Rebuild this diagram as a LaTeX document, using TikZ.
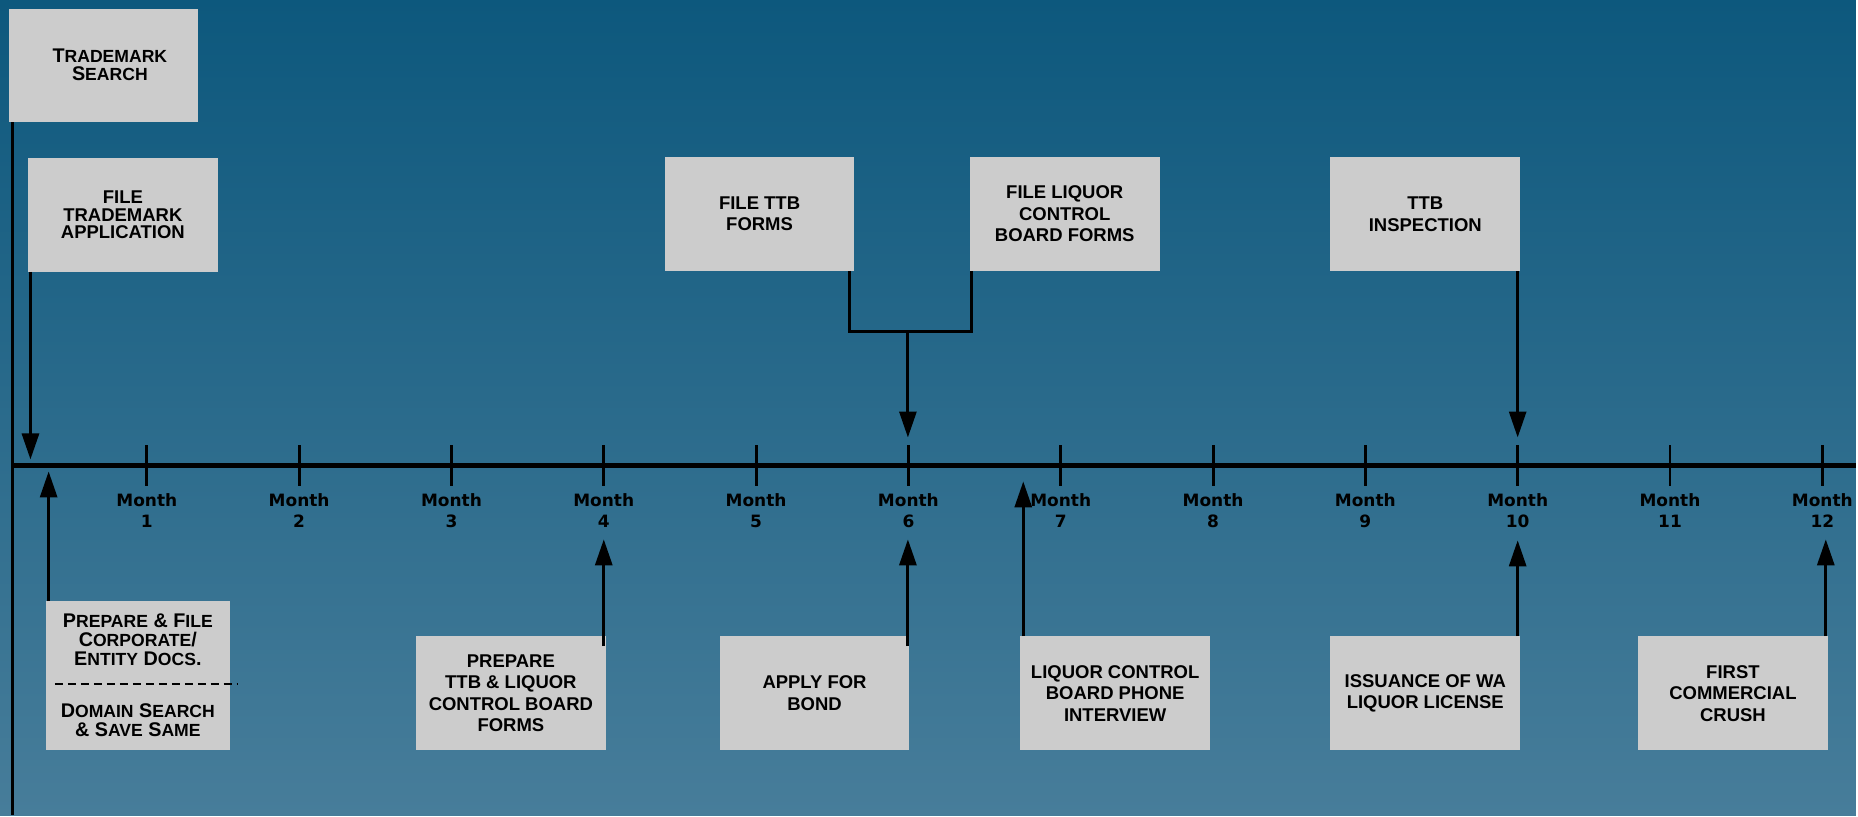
\documentclass[tikz,border=0pt]{standalone}
\usepackage{fontspec}
\usetikzlibrary{arrows.meta,calc}
\newfontfamily\boxfont{Liberation Sans}
\newfontfamily\monthfont{DejaVu Sans}
\definecolor{boxgray}{HTML}{CCCCCC}
\definecolor{bgtop}{HTML}{0D587D}
\definecolor{bgbot}{HTML}{477D9A}
\newcommand\smc[1]{{\fontsize{17.6}{18.7}\selectfont #1}}
\begin{document}
\begin{tikzpicture}[x=1pt,y=-1pt,
  box/.style={fill=boxgray, inner sep=0pt, minimum width=190pt, minimum height=114pt, align=center, font=\boxfont\bfseries\fontsize{18.5}{21.5}\selectfont},
  lbl/.style={inner sep=0pt, align=center, font=\boxfont\bfseries\fontsize{19.8}{18.7}\selectfont},
  mlbl/.style={inner sep=0pt, align=center, font=\monthfont\bfseries\fontsize{17}{21}\selectfont},
  arr/.style={line width=3pt, -{Triangle[length=26pt,width=17pt]}},
  conn/.style={line width=3pt},
  axisline/.style={line width=4.5pt},
  tickline/.style={line width=3pt},
  divider/.style={line width=2pt, dash pattern=on 8pt off 5pt}]

\shade[top color=bgtop, bottom color=bgbot] (0,0) rectangle (1858,816);

% top boxes
\node[box, minimum width=189pt, minimum height=113pt] (tms) at (103.5,65.5) {};
\node[lbl] (tmstxt) at (110,65) {T\smc{RADEMARK}\\S\smc{EARCH}};
\node[box, font=\boxfont\bfseries\fontsize{18.5}{18}\selectfont] (tma) at (123,215) {FILE\\TRADEMARK\\APPLICATION};
\node[box] (ttbf) at (760.5,214) {FILE TTB\\FORMS};
\node[box] (lcbf) at (1066,214) {FILE LIQUOR\\CONTROL\\BOARD FORMS};
\node[box] (ttbi) at (1427,214.5) {TTB\\INSPECTION};

% bottom boxes
\node[box, minimum width=184pt, minimum height=149pt] (pfc) at (138,676.5) {};
\node[lbl] (pfctxt1) at (138,640.4) {P\smc{REPARE} \& F\smc{ILE}\\C\smc{ORPORATE}/\\E\smc{NTITY} D\smc{OCS}.};
\node[lbl] (pfctxt2) at (138,721) {D\smc{OMAIN} S\smc{EARCH}\\\& S\smc{AVE} S\smc{AME}};
\coordinate (dv0) at (55,685);
\coordinate (dv1) at (238,685);
\draw[divider] (dv0) -- (dv1);

\node[box] (ptl) at (511.5,694) {PREPARE\\TTB \& LIQUOR\\CONTROL BOARD\\FORMS};
\node[box] (bond) at (815.5,694) {APPLY FOR\\BOND};
\node[box] (phone) at (1116.5,694) {LIQUOR CONTROL\\BOARD PHONE\\INTERVIEW};
\node[box] (wa) at (1427,694) {ISSUANCE OF WA\\LIQUOR LICENSE};
\node[box] (crush) at (1735,694) {FIRST\\COMMERCIAL\\CRUSH};

% axis and left vertical line
\coordinate (ax0) at (13,466);
\coordinate (ax1) at (1858,466);
\coordinate (vb) at (13,816);
\draw[conn] (tms.south -| vb) -- (vb);
\draw[axisline] (ax0) -- (ax1);

\foreach \k in {1,...,12}{
  \pgfmathsetmacro\xx{147+152.5*(\k-1)}
  \coordinate (m\k) at (\xx,466);
  \draw[tickline] (\xx,446) -- (\xx,487);
  \node[mlbl] (ml\k) at (\xx,511.5) {Month\\\k};
}

% arrows from top
\coordinate (tip0) at (30.5,460);
\draw[arr] (tma.south -| tip0) -- (tip0);
\coordinate (bl) at (851,332);
\coordinate (br) at (973,332);
\coordinate (bm) at (909,332);
\coordinate (tip6) at (909,438);
\draw[conn] (ttbf.south -| bl) -- (bl) -- (br) -- (lcbf.south -| br);
\draw[arr] (bm) -- (tip6);
\coordinate (tip10) at (1519.5,438);
\draw[arr] (ttbi.south -| tip10) -- (tip10);

% arrows from bottom
\coordinate (tipa) at (48.7,472);
\draw[arr] (pfc.north -| tipa) -- (tipa);
\coordinate (tipb) at (604.5,540);
\draw[arr] ([yshift=-10pt]ptl.north -| tipb) -- (tipb);
\coordinate (tipc) at (909,540);
\draw[arr] ([yshift=-10pt]bond.north -| tipc) -- (tipc);
\coordinate (tipd) at (1024.5,482);
\draw[arr] (phone.north -| tipd) -- (tipd);
\coordinate (tipe) at (1519.5,541);
\draw[arr] (wa.north -| tipe) -- (tipe);
\coordinate (tipf) at (1828,540);
\draw[arr] (crush.north -| tipf) -- (tipf);
\end{tikzpicture}
\end{document}
